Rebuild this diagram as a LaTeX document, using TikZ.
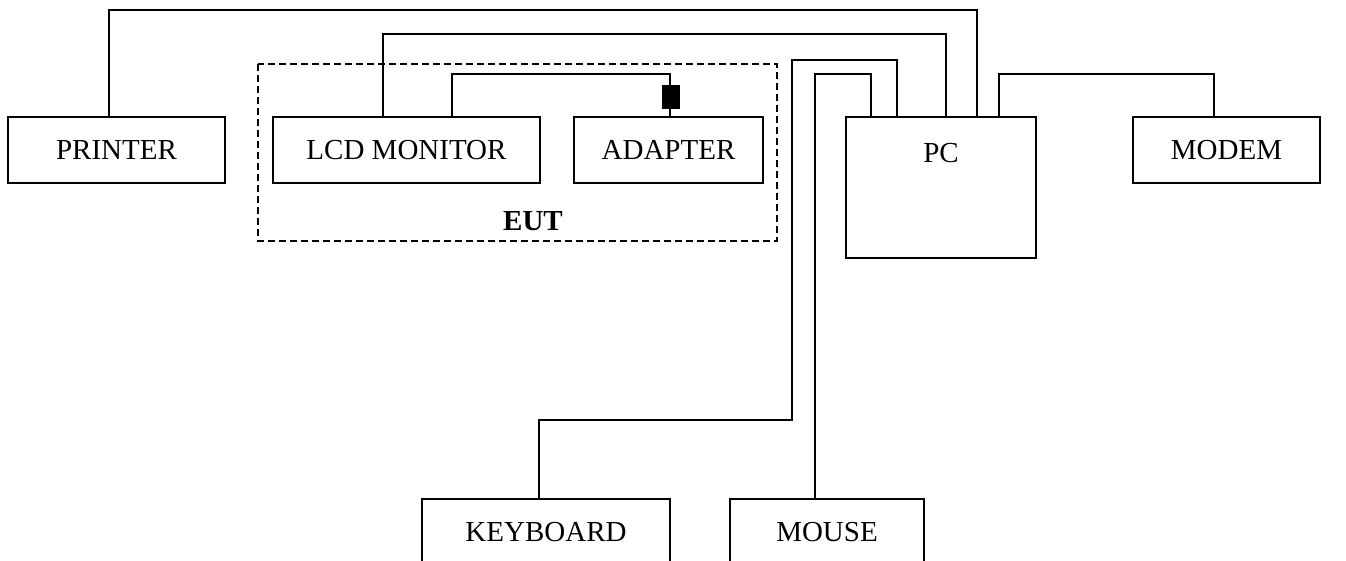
\documentclass[tikz,border=0pt]{standalone}
\usepackage{fontspec}
\setmainfont{Liberation Serif}
\begin{document}
\begin{tikzpicture}[x=1pt,y=-1pt,
  box/.style={draw=black, line width=1.3pt, rectangle, inner sep=0pt, font=\fontsize{29}{31}\selectfont},
  wire/.style={draw=black, line width=1.3pt},
  plug/.style={fill=black, draw=black, rectangle, inner sep=0pt, minimum width=17pt, minimum height=23pt}
]
\useasboundingbox (0,0) rectangle (1346,560);
\clip (0,0) rectangle (1346,560);

% EUT group
\draw[line width=1.2pt, dash pattern=on 7pt off 4pt] (258,64) rectangle (777,241);
\node[font=\fontsize{29}{31}\selectfont\bfseries] (eut) at (533,221) {EUT};

% boxes
\node[box, minimum width=217pt, minimum height=66pt] (printer) at (116.5,150) {PRINTER};
\node[box, minimum width=267pt, minimum height=66pt] (lcd) at (406.5,150) {LCD MONITOR};
\node[box, minimum width=189pt, minimum height=66pt] (adapter) at (668.5,150) {ADAPTER};
\node[box, minimum width=190pt, minimum height=141pt] (pc) at (941,187.5) {};
\node[font=\fontsize{29}{31}\selectfont] (pclabel) at (941,153) {PC};
\node[box, minimum width=187pt, minimum height=66pt] (modem) at (1226.5,150) {MODEM};
\node[box, minimum width=248pt, minimum height=66pt] (keyboard) at (546,532) {KEYBOARD};
\node[box, minimum width=194pt, minimum height=66pt] (mouse) at (827,532) {MOUSE};

% levels
\coordinate (y10) at (0,10);
\coordinate (y34) at (0,34);
\coordinate (y60) at (0,60);
\coordinate (y74) at (0,74);
\coordinate (y420) at (0,420);
\coordinate (kbx) at (792,0);

% attachment points
\coordinate (p1) at ([xshift=-7.5pt]printer.north);
\coordinate (l1) at ([xshift=-23.5pt]lcd.north);
\coordinate (l2) at ([xshift=45.5pt]lcd.north);
\coordinate (a1) at ([xshift=1.5pt]adapter.north);
\coordinate (pcp) at ([xshift=36pt]pc.north);
\coordinate (pcl) at ([xshift=5pt]pc.north);
\coordinate (pck) at ([xshift=-44pt]pc.north);
\coordinate (pcm) at ([xshift=-70pt]pc.north);
\coordinate (pcmod) at ([xshift=58pt]pc.north);
\coordinate (k1) at ([xshift=-7pt]keyboard.north);
\coordinate (m1) at ([xshift=-12pt]mouse.north);
\coordinate (mo1) at ([xshift=-12.5pt]modem.north);

% connectors
\draw[wire] (p1) -- (p1 |- y10) -| (pcp);
\draw[wire] (l1) -- (l1 |- y34) -| (pcl);
\draw[wire] (l2) -- (l2 |- y74) -| (a1);
\draw[wire] (k1) |- (kbx |- y420) -- (kbx |- y60) -| (pck);
\draw[wire] (m1) -- (m1 |- y74) -| (pcm);
\draw[wire] (pcmod) -- (pcmod |- y74) -| (mo1);

% adapter plug
\node[plug] (plug) at (670.5,96.5) {};
\end{tikzpicture}
\end{document}
